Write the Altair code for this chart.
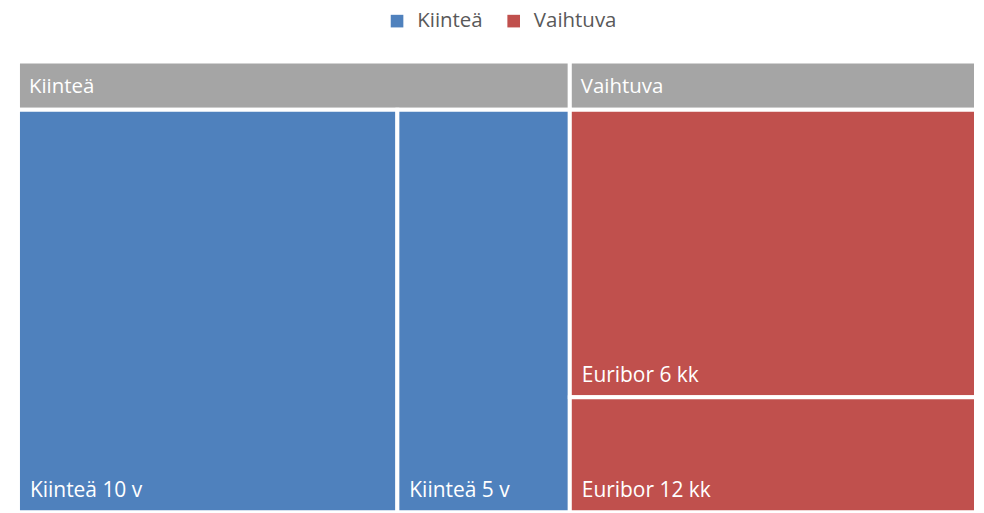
import altair as alt
import pandas as pd

# ---- data ----
groups = ["Kiinteä", "Vaihtuva"]
group_split = ["columns", "rows"]          # how each group's leaves are laid out
group_colors = ["#4f81bd", "#c0504d"]
leaf_names = ["Kiinteä 10 v", "Kiinteä 5 v", "Euribor 6 kk", "Euribor 12 kk"]
leaf_parents = ["Kiinteä", "Kiinteä", "Vaihtuva", "Vaihtuva"]
leaf_values = [39.6, 18.0, 30.3, 12.1]

HEADER_TOP = 111.94   # y units: leaves occupy 0..100, header band 100..HEADER_TOP

# ---- treemap layout (computed from the values) ----
total = sum(leaf_values)
leaf_rows, head_rows = [], []
gx = 0.0
for g, split in zip(groups, group_split):
    kids = [(n, v) for n, p, v in zip(leaf_names, leaf_parents, leaf_values) if p == g]
    gsum = sum(v for _, v in kids)
    gw = gsum / total * 100
    head_rows.append(dict(name=g, x0=gx, x1=gx + gw, y0=100.0, y1=HEADER_TOP,
                          ymid=(100.0 + HEADER_TOP) / 2))
    if split == "columns":
        cx = gx
        for n, v in kids:
            w = v / gsum * gw
            leaf_rows.append(dict(name=n, group=g, x0=cx, x1=cx + w, y0=0.0, y1=100.0))
            cx += w
    else:
        cy = 100.0
        for n, v in kids:
            h = v / gsum * 100
            leaf_rows.append(dict(name=n, group=g, x0=gx, x1=gx + gw, y0=cy - h, y1=cy))
            cy -= h
    gx += gw

leaves = pd.DataFrame(leaf_rows)
heads = pd.DataFrame(head_rows)

xs = alt.Scale(domain=[0, 100], nice=False, zero=False)
ys = alt.Scale(domain=[0, HEADER_TOP], nice=False, zero=False)

color = alt.Color(
    "group:N",
    scale=alt.Scale(domain=groups, range=group_colors),
    legend=alt.Legend(
        title=None, orient="none", direction="horizontal",
        legendX=370, legendY=-51, padding=0,
        symbolType="square", symbolSize=160, symbolStrokeWidth=0,
        symbolOpacity=1,
        labelFont="Open Sans", labelFontSize=20.5, labelColor="#595959",
        labelOffset=10, columnPadding=20, labelLimit=200,
    ),
)

leaf_rect = alt.Chart(leaves).mark_rect(stroke="white", strokeWidth=4, opacity=1).encode(
    x=alt.X("x0:Q", scale=xs, axis=None),
    x2="x1:Q",
    y=alt.Y("y0:Q", scale=ys, axis=None),
    y2="y1:Q",
    color=color,
)

leaf_text = alt.Chart(leaves).mark_text(
    align="left", baseline="alphabetic", dx=12, dy=-15,
    font="Open Sans", fontSize=21, color="white",
).encode(
    x=alt.X("x0:Q", scale=xs, axis=None),
    y=alt.Y("y0:Q", scale=ys, axis=None),
    text="name:N",
)

head_rect = alt.Chart(heads).mark_rect(stroke="white", strokeWidth=4, color="#a5a5a5").encode(
    x=alt.X("x0:Q", scale=xs, axis=None),
    x2="x1:Q",
    y=alt.Y("y0:Q", scale=ys, axis=None),
    y2="y1:Q",
)

head_text = alt.Chart(heads).mark_text(
    align="left", baseline="middle", dx=11, dy=1,
    font="Open Sans", fontSize=20.5, color="white",
).encode(
    x=alt.X("x0:Q", scale=xs, axis=None),
    y=alt.Y("ymid:Q", scale=ys, axis=None),
    text="name:N",
)

chart = (
    alt.layer(head_rect, leaf_rect, head_text, leaf_text)
    .properties(
        width=961, height=452,
        autosize=alt.AutoSizeParams(type="none"),
        padding={"left": 10, "top": 53, "right": 0, "bottom": 0},
    )
    .configure_view(stroke=None)
)

chart.save("out.html", embed_options={"renderer": "svg", "actions": False})
